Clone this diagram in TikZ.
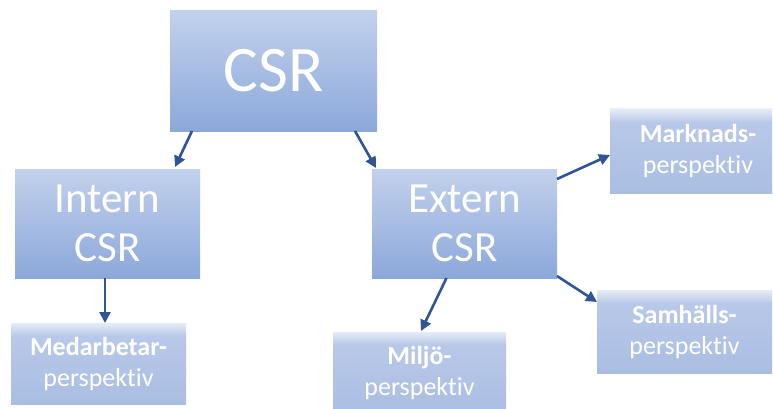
\documentclass[tikz,border=0pt]{standalone}
\usepackage{fontspec}
\setmainfont{Carlito}[RawFeature={-liga}]
\usetikzlibrary{arrows.meta}
\definecolor{csrtop}{HTML}{C2D1EC}
\definecolor{csrbot}{HTML}{8CA8DA}
\definecolor{ptop}{HTML}{E6ECF7}
\definecolor{pmid}{HTML}{B8C8E8}
\definecolor{pbot}{HTML}{AABEE3}
\definecolor{arrowblue}{HTML}{2F5597}
\pgfdeclareverticalshading{perspshade}{100bp}{color(0bp)=(pbot); color(25bp)=(pbot); color(67bp)=(pmid); color(75bp)=(ptop); color(100bp)=(ptop)}
\tikzset{
  >={Triangle[length=11pt,width=11pt]},
  mainbox/.style={top color=csrtop,bottom color=csrbot,text=white,align=center,
    inner sep=0pt,outer sep=0pt},
  perspbox/.style={shading=perspshade,text=white,align=center,inner sep=0pt,
    outer sep=0pt,font=\fontsize{26}{31}\selectfont},
  link/.style={->,draw=arrowblue,line width=2.6pt}
}

\begin{document}
\begin{tikzpicture}[x=1pt,y=-1pt]
  \useasboundingbox (0,0) rectangle (773,409);
  % top level
  \node[mainbox,minimum width=207pt,minimum height=120pt,
    font=\fontsize{65}{70}\selectfont] (csr) at (273.5,71) {CSR};
  % second level
  \node[mainbox,minimum width=185pt,minimum height=109pt,
    font=\fontsize{43}{49}\selectfont] (intern) at (107.5,223.5) {Intern\\CSR};
  \node[mainbox,minimum width=185pt,minimum height=109pt,
    font=\fontsize{43}{49}\selectfont] (extern) at (464.5,223.5) {Extern\\CSR};
  % perspectives
  \node[perspbox,minimum width=175pt,minimum height=81pt] (medarb) at (98.5,363.5)
    {{\bfseries Medarbetar-}\\perspektiv};
  \node[perspbox,minimum width=173pt,minimum height=81pt] (miljo) at (419.5,372.5)
    {{\bfseries Miljö-}\\perspektiv};
  \node[perspbox,minimum width=162pt,minimum height=84pt] (marknad) at (691,151)
    {\hspace*{14pt}{\bfseries Marknads-}\\\hspace*{14pt}perspektiv};
  \node[perspbox,minimum width=175pt,minimum height=83pt] (samhall) at (684.5,331.5)
    {{\bfseries Samhälls-}\\perspektiv};
  % arrows
  \draw[link] ([xshift=22pt]csr.south west) -- ([xshift=160pt,yshift=2pt]intern.north west);
  \draw[link] ([xshift=-22pt]csr.south east) -- ([xshift=4pt,yshift=1pt]extern.north west);
  \draw[link] ([xshift=-2.5pt]intern.south) -- ([xshift=6.5pt]medarb.north);
  \draw[link] ([xshift=-18pt]extern.south) -- ([xshift=1.5pt,yshift=1pt]miljo.north);
  \draw[link] ([yshift=-10pt]extern.north east) -- ([yshift=-4pt]marknad.west);
  \draw[link] ([yshift=2pt]extern.south east) -- ([yshift=-12pt]samhall.north west);
\end{tikzpicture}
\end{document}
